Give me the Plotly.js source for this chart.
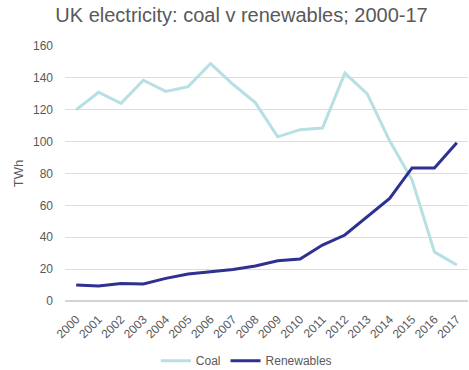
<!DOCTYPE html>
<html><head><meta charset="utf-8">
<script src="https://cdn.plot.ly/plotly-3.0.1.min.js"></script>
<style>body{margin:0;padding:0;background:#fff}#chart{width:469px;height:370px}</style>
</head><body><div id="chart"></div>
<script>
const years = ["2000","2001","2002","2003","2004","2005","2006","2007","2008","2009","2010","2011","2012","2013","2014","2015","2016","2017"];
const coal = [120, 131, 124, 138.5, 131.5, 134.5, 149, 136, 124.5, 103, 107.5, 108.5, 143, 130, 100.5, 76, 30.8, 22.6];
const renewables = [10, 9.4, 11, 10.7, 14.2, 16.9, 18.4, 19.8, 22, 25.3, 26.3, 35.1, 41.4, 52.9, 64.4, 83.5, 83.5, 99.3];

const traces = [
  {x: years.map((_, i) => i), y: coal, name: "Coal", type: "scatter", mode: "lines",
   line: {color: "#b6e0e3", width: 3}},
  {x: years.map((_, i) => i), y: renewables, name: "Renewables", type: "scatter", mode: "lines",
   line: {color: "#2e3192", width: 3}}
];
const layout = {
  width: 469, height: 370,
  margin: {l: 65, r: 1, t: 46, b: 69, autoexpand: false},
  paper_bgcolor: "#fff", plot_bgcolor: "#fff",
  font: {family: "Liberation Sans, Arial, sans-serif", color: "#595959", size: 12},
  title: {text: "UK electricity: coal v renewables; 2000-17", x: 0.515, xanchor: "center", y: 0.96, yanchor: "middle",
          font: {size: 20, color: "#595959"}},
  xaxis: {range: [-0.5, 17.5], tickmode: "array", tickvals: years.map((_, i) => i), ticktext: years,
          tickangle: -45, showgrid: false, zeroline: false, showline: false, ticks: "",
          ticklabelstandoff: 8,
          tickfont: {size: 12, color: "#595959"}, fixedrange: true},
  yaxis: {range: [0, 160], dtick: 20, showgrid: true, gridcolor: "#dedede", gridwidth: 1,
          zeroline: true, zerolinecolor: "#d4d4d4", zerolinewidth: 2, showline: false, ticks: "",
          tickfont: {size: 12, color: "#595959"}, ticklabelstandoff: 11,
          title: {text: "TWh", font: {size: 13, color: "#595959"}, standoff: 6}},
  showlegend: true,
  legend: {orientation: "h", x: 0.45, xanchor: "center", yref: "container", y: 0.025, yanchor: "middle",
           font: {size: 12, color: "#595959"}, itemwidth: 30}
};
Plotly.newPlot("chart", traces, layout, {staticPlot: true, displayModeBar: false});
</script></body></html>
